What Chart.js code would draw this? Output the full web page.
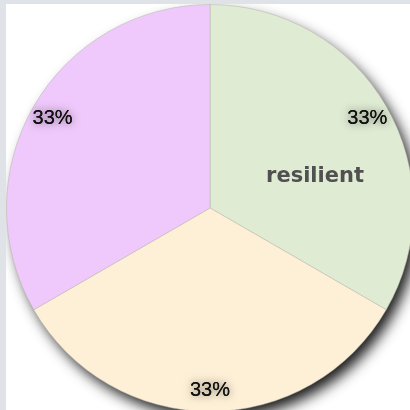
<!DOCTYPE html>
<html>
<head>
<meta charset="utf-8">
<script src="https://cdn.jsdelivr.net/npm/chart.js@4/dist/chart.umd.min.js"></script>
<style>
  html, body { margin: 0; padding: 0; width: 410px; height: 410px; overflow: hidden; background: #dfe3e8; }
  #panel { position: absolute; left: 6px; top: 4px; width: 420px; height: 420px; background: #ffffff; }
  #wrap { position: absolute; left: 6px; top: 4px; width: 408px; height: 408px; }
</style>
</head>
<body>
<div id="panel"></div>
<div id="wrap"><canvas id="c" width="408" height="408"></canvas></div>
<script>
const categories = ['resilient', '', ''];
const values = [1, 1, 1];
const colors = ['#dfebd3', '#fef0d6', '#efc9fb'];

const shadowPlugin = {
  id: 'pieShadow',
  beforeDatasetsDraw(chart) {
    const meta = chart.getDatasetMeta(0);
    if (!meta.data.length) return;
    const a = meta.data[0];
    const ctx = chart.ctx;
    ctx.save();
    ctx.shadowColor = 'rgba(0,0,0,0.9)';
    ctx.shadowBlur = 14;
    ctx.shadowOffsetX = 6;
    ctx.shadowOffsetY = 8;
    ctx.fillStyle = '#fef0d6';
    ctx.beginPath();
    ctx.arc(a.x, a.y, a.outerRadius - 1, 0, Math.PI * 2);
    ctx.fill();
    ctx.restore();
  }
};

const labelPlugin = {
  id: 'sliceLabels',
  afterDatasetsDraw(chart) {
    const ctx = chart.ctx;
    const meta = chart.getDatasetMeta(0);
    const total = values.reduce((s, v) => s + v, 0);
    meta.data.forEach((arc, i) => {
      const mid = (arc.startAngle + arc.endAngle) / 2;
      const r = arc.outerRadius * 0.893;
      const x = arc.x + Math.cos(mid) * r;
      const y = arc.y + Math.sin(mid) * r + 1;
      const txt = Math.round(values[i] / total * 100) + '%';
      ctx.save();
      ctx.font = '20px "Liberation Sans", Arial, sans-serif';
      ctx.textAlign = 'center';
      ctx.textBaseline = 'middle';
      ctx.shadowColor = 'rgba(0,0,0,0.6)';
      ctx.shadowBlur = 9;
      ctx.fillStyle = '#111111';
      ctx.fillText(txt, x, y);
      ctx.shadowBlur = 0;
      ctx.shadowColor = 'transparent';
      ctx.fillText(txt, x, y);
      ctx.restore();
      if (categories[i]) {
        const x2 = arc.x + 105;
        const y2 = arc.y - 31;
        ctx.save();
        ctx.font = 'bold 21px "DejaVu Sans", sans-serif';
        ctx.textAlign = 'center';
        ctx.textBaseline = 'middle';
        ctx.fillStyle = '#505050';
        ctx.fillText(categories[i], x2, y2);
        ctx.restore();
      }
    });
  }
};

new Chart(document.getElementById('c'), {
  type: 'pie',
  data: {
    labels: categories,
    datasets: [{
      data: values,
      backgroundColor: colors,
      borderColor: 'rgba(180,180,170,0.5)',
      borderWidth: 1
    }]
  },
  options: {
    responsive: false,
    animation: false,
    layout: { padding: 0 },
    plugins: { legend: { display: false }, tooltip: { enabled: false } }
  },
  plugins: [shadowPlugin, labelPlugin]
});
</script>
</body>
</html>
